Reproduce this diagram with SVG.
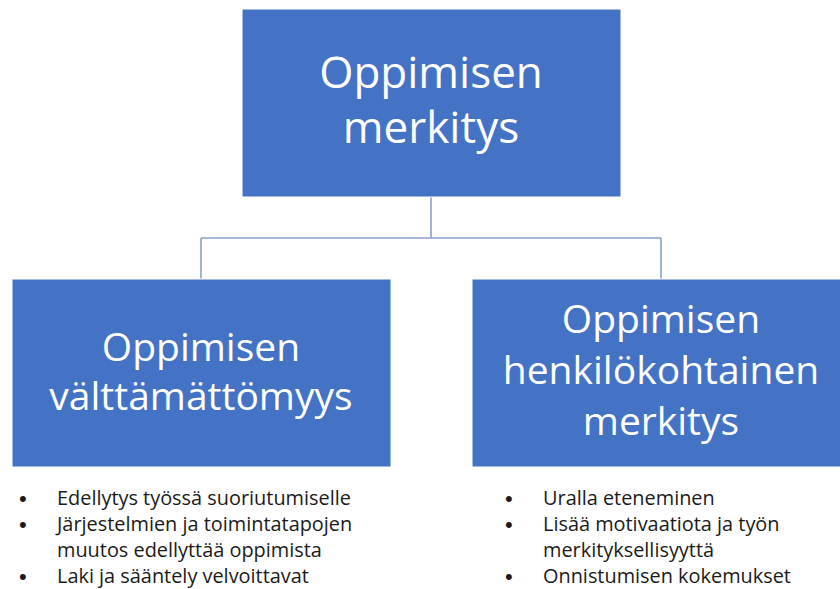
<svg xmlns="http://www.w3.org/2000/svg" width="840" height="589" viewBox="0 0 840 589">
<style>
.box{fill:#4472C4;stroke:#ffffff;stroke-width:1}
.t{font-family:"Open Sans","Liberation Sans",sans-serif;fill:#ffffff;text-anchor:middle}
.b{font-family:"Open Sans","Liberation Sans",sans-serif;fill:#1a1a1a;font-size:19.9px}
.d{font-family:"Liberation Sans",sans-serif;fill:#1a1a1a;font-size:22px}
.con{fill:none;stroke:#8AA0CF;stroke-width:1.6}
</style>
<rect width="840" height="589" fill="#ffffff"/>
<g id="connectors">
<path class="con" d="M431 197 V238 M201 238 H661 M201 238 V279 M661 238 V279"/>
</g>
<g id="top">
<rect class="box" x="242" y="9" width="379" height="188"/>
<text class="t" font-size="44" x="431" y="88">Oppimisen</text>
<text class="t" font-size="44" x="431" y="143">merkitys</text>
</g>
<g id="left">
<rect class="box" x="12" y="279" width="379" height="188"/>
<text class="t" font-size="39" x="201" y="361">Oppimisen</text>
<text class="t" font-size="39" x="201" y="410">välttämättömyys</text>
</g>
<g id="right">
<rect class="box" x="472" y="279" width="378" height="188"/>
<text class="t" font-size="39" x="661" y="333">Oppimisen</text>
<text class="t" font-size="39" x="661" y="384">henkilökohtainen</text>
<text class="t" font-size="39" x="661" y="435">merkitys</text>
</g>
<g id="left-list">
<text class="d" x="19" y="506">•</text>
<text class="b" x="57" y="505">Edellytys työssä suoriutumiselle</text>
<text class="d" x="19" y="532">•</text>
<text class="b" x="57" y="531">Järjestelmien ja toimintatapojen</text>
<text class="b" x="57" y="557">muutos edellyttää oppimista</text>
<text class="d" x="19" y="584">•</text>
<text class="b" x="57" y="583">Laki ja sääntely velvoittavat</text>
</g>
<g id="right-list">
<text class="d" x="505" y="506">•</text>
<text class="b" x="543" y="505">Uralla eteneminen</text>
<text class="d" x="505" y="532">•</text>
<text class="b" x="543" y="531">Lisää motivaatiota ja työn</text>
<text class="b" x="543" y="557">merkityksellisyyttä</text>
<text class="d" x="505" y="584">•</text>
<text class="b" x="543" y="583">Onnistumisen kokemukset</text>
</g>
</svg>
